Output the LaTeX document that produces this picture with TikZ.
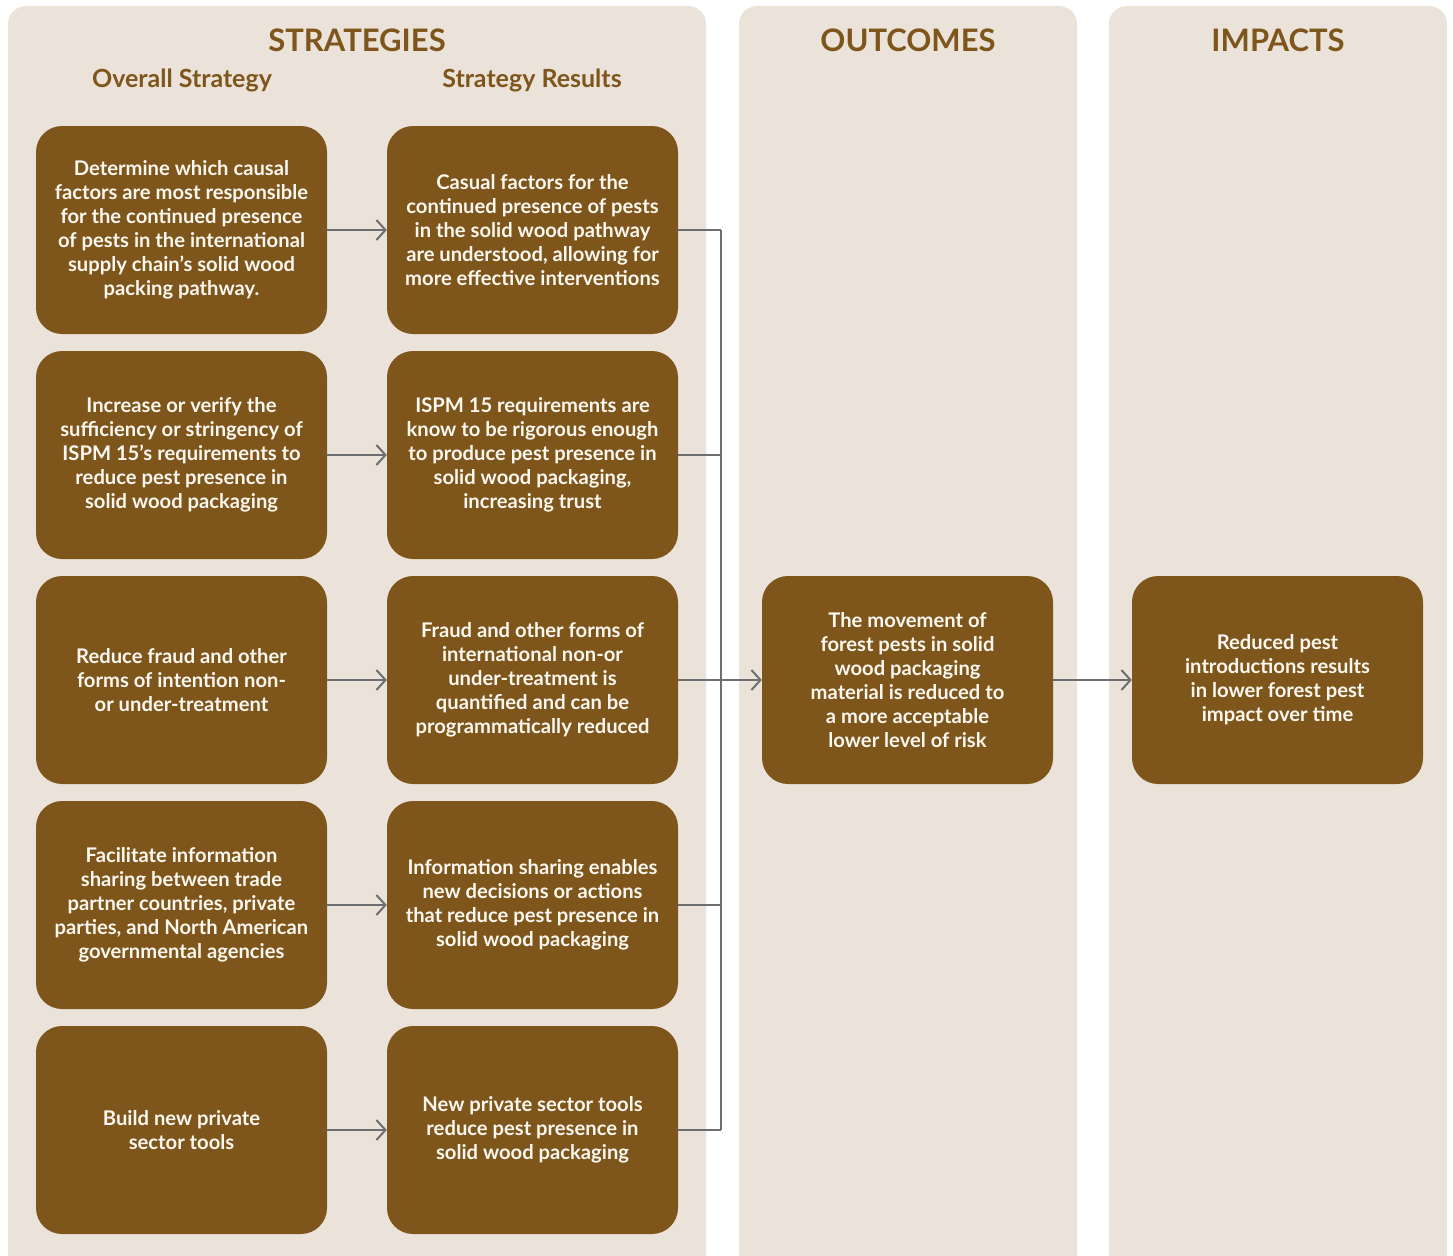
\documentclass[tikz,border=0pt]{standalone}
\usepackage{fontspec}
\setmainfont{Lato}
\usetikzlibrary{arrows.meta}
\definecolor{panel}{HTML}{EBE3D9}
\definecolor{boxc}{HTML}{7E561C}
\definecolor{linec}{HTML}{6D6E71}
\definecolor{txtc}{HTML}{FCF8F0}
\tikzset{
  panelbox/.style={fill=panel, draw=none, rounded corners=18pt},
  card/.style={fill=boxc, draw=none, rounded corners=26pt, minimum width=291pt, minimum height=208pt,
    text=txtc, align=center, font=\bfseries\fontsize{20.2}{24}\selectfont, inner sep=0pt},
  conn/.style={draw=linec, line width=2pt},
  arr/.style={conn, -{Straight Barb[length=9pt,width=20pt,line width=2pt]}},
  head/.style={text=boxc, font=\bfseries\fontsize{31}{36}\selectfont},
  subhead/.style={text=boxc, font=\bfseries\fontsize{25}{30}\selectfont},
}
\begin{document}
\begin{tikzpicture}[x=1pt,y=-1pt]
\useasboundingbox (0,0) rectangle (1453,1255);
\clip (0,0) rectangle (1453,1255);
\fill[white] (0,0) rectangle (1453,1255);
\path[panelbox] (8,6) rectangle (706,1280);
\path[panelbox] (739,6) rectangle (1077,1280);
\path[panelbox] (1109,6) rectangle (1447,1280);

\node[head] (h1) at (357,40) {STRATEGIES};
\node[head] (h2) at (908,40) {OUTCOMES};
\node[head] (h3) at (1278,40) {IMPACTS};
\node[subhead] (s1) at (182,80) {Overall Strategy};
\node[subhead] (s2) at (532,80) {Strategy Results};

\node[card] (l1) at (181.5,230) {Determine which causal\\factors are most responsible\\for the continued presence\\of pests in the international\\supply chain’s solid wood\\packing pathway.};
\node[card] (l2) at (181.5,455) {Increase or verify the\\sufficiency or stringency of\\ISPM 15’s requirements to\\reduce pest presence in\\solid wood packaging};
\node[card] (l3) at (181.5,680) {Reduce fraud and other\\forms of intention non-\\or under-treatment};
\node[card] (l4) at (181.5,905) {Facilitate information\\sharing between trade\\partner countries, private\\parties, and North American\\governmental agencies};
\node[card] (l5) at (181.5,1130) {Build new private\\sector tools};

\node[card] (r1) at (532.5,230) {Casual factors for the\\continued presence of pests\\in the solid wood pathway\\are understood, allowing for\\more effective interventions};
\node[card] (r2) at (532.5,455) {ISPM 15 requirements are\\know to be rigorous enough\\to produce pest presence in\\solid wood packaging,\\increasing trust};
\node[card] (r3) at (532.5,680) {Fraud and other forms of\\international non-or\\under-treatment is\\quantified and can be\\programmatically reduced};
\node[card] (r4) at (532.5,905) {Information sharing enables\\new decisions or actions\\that reduce pest presence in\\solid wood packaging};
\node[card] (r5) at (532.5,1130) {New private sector tools\\reduce pest presence in\\solid wood packaging};

\node[card] (out) at (907.5,680) {The movement of\\forest pests in solid\\wood packaging\\material is reduced to\\a more acceptable\\lower level of risk};
\node[card] (imp) at (1277.5,680) {Reduced pest\\introductions results\\in lower forest pest\\impact over time};

\coordinate (busx) at (721,0);

\foreach \i in {1,...,5}{
  \draw[arr] (l\i.east) -- (r\i.west);
  \draw[conn] (r\i.east) -- (r\i.east -| busx);
}
\draw[conn] (r1.east -| busx) -- (r5.east -| busx);
\draw[arr] (r3.east -| busx) -- (out.west);
\draw[arr] (out.east) -- (imp.west);
\end{tikzpicture}
\end{document}
